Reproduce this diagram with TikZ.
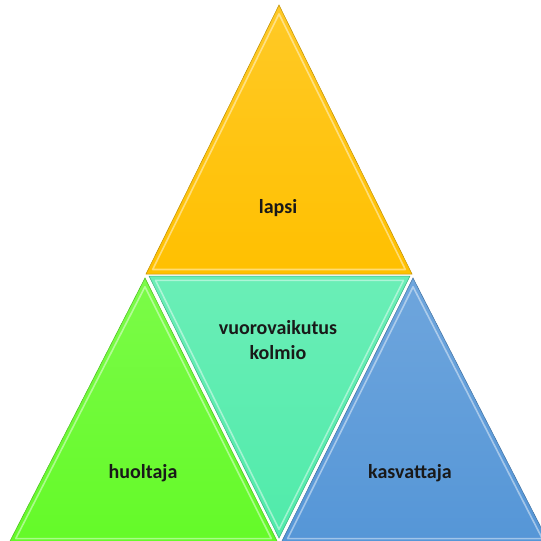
\documentclass[tikz,border=0pt]{standalone}
\usepackage{fontspec}
\setmainfont{Carlito}
\usetikzlibrary{calc}

\definecolor{lapsiY}{RGB}{255,192,0}
\definecolor{huolG}{RGB}{100,250,40}
\definecolor{vuoroT}{RGB}{80,235,170}
\definecolor{kasvB}{RGB}{85,150,215}

\begin{document}
\begin{tikzpicture}[x=1pt, y=-1pt,
  every node/.style = {font=\bfseries\fontsize{20}{25}\selectfont,
    align=center, text=black!90},
  facet/.style = {draw=#1!75!black, line width=0.5pt,
    top color=#1!85!white, bottom color=#1},
  bevel/.style = {draw=white, opacity=0.45, line width=1.6pt, line join=round}]
  \useasboundingbox (0,0) rectangle (541,541);
  \clip (0,0) rectangle (541,541);

  % corners of the four faces
  \coordinate (lA) at (279,5);   \coordinate (lB) at (146,274); \coordinate (lC) at (412,274);
  \coordinate (hA) at (145,278); \coordinate (hB) at (9,543);   \coordinate (hC) at (278,543);
  \coordinate (vA) at (149,276); \coordinate (vB) at (410,276); \coordinate (vC) at (279,538);
  \coordinate (kA) at (413,278); \coordinate (kB) at (281,543); \coordinate (kC) at (549,543);

  % faces
  \path[facet=lapsiY] (lA) -- (lB) -- (lC) -- cycle;
  \path[facet=huolG]  (hA) -- (hB) -- (hC) -- cycle;
  \path[facet=vuoroT] (vA) -- (vB) -- (vC) -- cycle;
  \path[facet=kasvB]  (kA) -- (kB) -- (kC) -- cycle;

  % bevel highlights
  \foreach \t in {l,h,v,k} {
    \coordinate (\t M) at ($1/3*(\t A)+1/3*(\t B)+1/3*(\t C)$);
    \draw[bevel] ($(\t M)!0.95!(\t A)$) -- ($(\t M)!0.95!(\t B)$)
      -- ($(\t M)!0.95!(\t C)$) -- cycle;
  }

  % labels
  \node (lapsi) at (278,208) {lapsi};
  \node (vuoro) at (278,340) {vuorovaikutus\\kolmio};
  \node (huol)  at (143,473) {huoltaja};
  \node (kasv)  at (410,473) {kasvattaja};
\end{tikzpicture}
\end{document}
